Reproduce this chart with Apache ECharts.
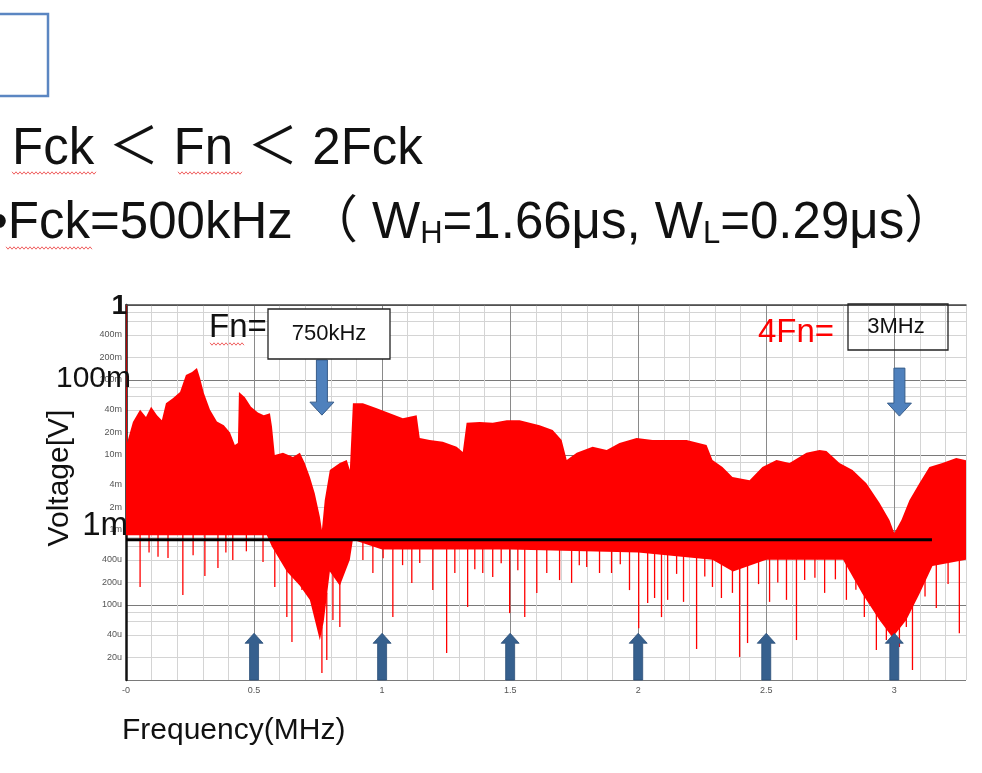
<!DOCTYPE html>
<html>
<head>
<meta charset="utf-8">
<script src="https://cdn.jsdelivr.net/npm/echarts@6/dist/echarts.min.js"></script>
<style>
html, body { margin: 0; padding: 0; background: #fff; }
#main { width: 982px; height: 773px; }
</style>
</head>
<body>
<div id="main"></div>
<script>
// spectrum top edge, [MHz, V]
var upperEnvelope = [
  [0, 1.0], [0.002, 1.0], [0.004, 0.0144], [0.027, 0.0276], [0.055, 0.040], [0.078, 0.032],
  [0.098, 0.044], [0.121, 0.034], [0.140, 0.029], [0.156, 0.049], [0.183, 0.057], [0.211, 0.069],
  [0.234, 0.117], [0.258, 0.128], [0.277, 0.144], [0.289, 0.106], [0.304, 0.067], [0.328, 0.040],
  [0.355, 0.028], [0.382, 0.025], [0.406, 0.020], [0.425, 0.0136], [0.437, 0.0144], [0.441, 0.069],
  [0.464, 0.059], [0.488, 0.044], [0.515, 0.037], [0.538, 0.034], [0.562, 0.036], [0.570, 0.024],
  [0.581, 0.010], [0.613, 0.0107], [0.652, 0.0094], [0.679, 0.0107], [0.698, 0.0078], [0.718, 0.0051],
  [0.737, 0.0031], [0.757, 0.0015], [0.765, 0.0010], [0.776, 0.0025], [0.796, 0.0063], [0.835, 0.0078],
  [0.862, 0.0086], [0.874, 0.0063], [0.886, 0.049], [0.925, 0.049], [0.979, 0.042], [1.030, 0.036],
  [1.081, 0.031], [1.135, 0.034], [1.147, 0.0169], [1.186, 0.0158], [1.237, 0.0150], [1.291, 0.0129],
  [1.315, 0.011], [1.330, 0.027], [1.381, 0.0276], [1.432, 0.027], [1.487, 0.029], [1.537, 0.029],
  [1.576, 0.027], [1.615, 0.025], [1.666, 0.0215], [1.701, 0.0158], [1.721, 0.0086], [1.760, 0.0107],
  [1.822, 0.0129], [1.877, 0.0117], [1.927, 0.0144], [1.994, 0.0169], [2.056, 0.0158], [2.122, 0.0158],
  [2.189, 0.0158], [2.267, 0.0136], [2.290, 0.0086], [2.329, 0.0069], [2.368, 0.0051], [2.435, 0.0046],
  [2.485, 0.0069], [2.540, 0.0086], [2.591, 0.0078], [2.657, 0.0107], [2.708, 0.0117], [2.735, 0.0113],
  [2.786, 0.0078], [2.837, 0.0063], [2.891, 0.0042], [2.942, 0.0023], [2.981, 0.00136], [3.000, 0.00091],
  [3.028, 0.00136], [3.059, 0.0025], [3.098, 0.0042], [3.137, 0.0069], [3.188, 0.0078], [3.242, 0.0091],
  [3.28, 0.0085]
];
// where the solid red stops, [MHz, V]
var lowerEnvelope = [
  [0, 0.00085], [0.55, 0.00085],
  [0.57, 0.0006], [0.628, 0.00028], [0.679, 0.00018], [0.718, 0.000117], [0.757, 0.000034],
  [0.772, 0.00006], [0.796, 0.00028], [0.835, 0.00018], [0.874, 0.0004], [0.886, 0.00074],
  [1.0, 0.00055], [1.5, 0.00055], [2.0, 0.0005], [2.29, 0.0004], [2.37, 0.00028], [2.5, 0.0004],
  [2.80, 0.0004], [2.876, 0.00014], [2.942, 0.000063], [2.993, 0.000037], [3.047, 0.000063],
  [3.098, 0.00014], [3.149, 0.00033], [3.28, 0.0004]
];
// single lines dropping below the bulk, [MHz, V]
var dipSpikes = [
  [0.055, 1.74e-4], [0.090, 5.0e-4], [0.125, 4.4e-4], [0.164, 4.23e-4], [0.222, 1.36e-4],
  [0.262, 4.6e-4], [0.308, 2.44e-4], [0.359, 3.11e-4], [0.390, 5.0e-4], [0.417, 3.98e-4],
  [0.470, 5.2e-4], [0.535, 3.74e-4], [0.581, 1.74e-4], [0.628, 6.9e-5], [0.648, 3.2e-5],
  [0.687, 1.58e-4], [0.730, 1.0e-4], [0.765, 1.24e-5], [0.784, 1.85e-5], [0.808, 6.3e-5],
  [0.835, 5.1e-5], [0.925, 3.98e-4], [0.964, 2.67e-4], [1.004, 4.2e-4], [1.042, 6.9e-5],
  [1.080, 3.4e-4], [1.116, 1.97e-4], [1.147, 3.63e-4], [1.198, 1.58e-4], [1.252, 2.29e-5],
  [1.284, 2.67e-4], [1.334, 9.4e-5], [1.362, 3.0e-4], [1.393, 2.67e-4], [1.432, 2.36e-4],
  [1.465, 3.6e-4], [1.498, 7.8e-5], [1.530, 2.9e-4], [1.557, 6.9e-5], [1.604, 1.45e-4],
  [1.643, 2.67e-4], [1.693, 2.15e-4], [1.740, 1.97e-4], [1.770, 3.4e-4], [1.799, 3.21e-4],
  [1.849, 2.67e-4], [1.896, 2.67e-4], [1.930, 3.5e-4], [1.966, 1.58e-4], [2.002, 4.9e-5],
  [2.037, 1.06e-4], [2.064, 1.24e-4], [2.091, 6.9e-5], [2.115, 1.17e-4], [2.150, 2.6e-4],
  [2.177, 1.10e-4], [2.228, 2.59e-5], [2.260, 2.4e-4], [2.290, 1.74e-4], [2.325, 1.24e-4],
  [2.368, 1.45e-4], [2.396, 2.03e-5], [2.427, 3.11e-5], [2.470, 1.9e-4], [2.513, 1.10e-4],
  [2.545, 2.0e-4], [2.579, 1.17e-4], [2.618, 3.41e-5], [2.650, 2.15e-4], [2.690, 2.3e-4],
  [2.728, 1.45e-4], [2.770, 2.2e-4], [2.813, 1.17e-4], [2.850, 1.6e-4], [2.883, 6.9e-5],
  [2.930, 2.51e-5], [2.969, 3.41e-5], [3.020, 2.75e-5], [3.047, 5.1e-5], [3.071, 1.36e-5],
  [3.120, 1.3e-4], [3.164, 9.1e-5], [3.210, 1.9e-4], [3.254, 4.2e-5]
];
var thresholdLine = [[0, 0.00074], [3.147, 0.00074]];
// [MHz, top V, tip V]
var fnArrows = [[0.765, 0.185, 0.034], [3.02, 0.144, 0.033]];
var fckArrows = [0.5, 1, 1.5, 2, 2.5, 3];
var fckArrowTip = 4.2e-5;
var xLabelValues = [0, 0.5, 1, 1.5, 2, 2.5, 3];
var xLabelTexts = ['-0', '0.5', '1', '1.5', '2', '2.5', '3'];
var yGridVolts = [1e-5, 2e-5, 4e-5, 6e-5, 8e-5, 1e-4, 2e-4, 4e-4, 6e-4, 8e-4, 1e-3, 2e-3, 4e-3, 6e-3, 8e-3,
  1e-2, 2e-2, 4e-2, 6e-2, 8e-2, 0.1, 0.2, 0.4, 0.6, 0.8, 1];
var yLabelVolts = [2e-5, 4e-5, 1e-4, 2e-4, 4e-4, 1e-3, 2e-3, 4e-3, 1e-2, 2e-2, 4e-2, 0.1, 0.2, 0.4];
var yLabelTexts = ['20u', '40u', '100u', '200u', '400u', '1m', '2m', '4m', '10m', '20m', '40m', '100m', '200m', '400m'];

var LATIN = "'Liberation Sans', Arial, 'Noto Sans CJK JP', sans-serif";

function lg(v) { return Math.log10(v); }

function lowerAt(f) {
  for (var i = 1; i < lowerEnvelope.length; i++) {
    var a = lowerEnvelope[i - 1], b = lowerEnvelope[i];
    if (f <= b[0]) {
      var t = (f - a[0]) / (b[0] - a[0]);
      return lg(a[1]) + t * (lg(b[1]) - lg(a[1]));
    }
  }
  return lg(lowerEnvelope[lowerEnvelope.length - 1][1]);
}

function wavy(x0, x1, y) {
  var pts = [];
  for (var x = x0, i = 0; x <= x1; x += 2, i++) pts.push([x, y + (i % 2 ? 1.2 : -1.2)]);
  return { type: 'polyline', shape: { points: pts }, style: { stroke: '#f06060', lineWidth: 1, fill: null }, silent: true };
}

var chart = echarts.init(document.getElementById('main'));

var option = {
  animation: false,
  backgroundColor: '#fff',
  grid: { left: 126, top: 305, width: 840, height: 375 },
  xAxis: {
    type: 'value', min: 0, max: 3.28, interval: 0.1,
    axisLine: { lineStyle: { color: '#444', width: 1.5 } },
    axisTick: { show: false },
    axisLabel: {
      customValues: xLabelValues,
      color: '#555', fontSize: 9, fontFamily: LATIN, margin: 6,
      formatter: function (v) {
        for (var i = 0; i < xLabelValues.length; i++) if (Math.abs(xLabelValues[i] - v) < 1e-6) return xLabelTexts[i];
        return '';
      }
    },
    splitLine: { show: true, lineStyle: { color: ['#8a8a8a', '#d4d4d4', '#d4d4d4', '#d4d4d4', '#d4d4d4'], width: 1 } }
  },
  yAxis: {
    type: 'value', min: -5, max: 0,
    axisLine: { show: true, lineStyle: { color: '#111', width: 2.5 } },
    axisTick: { show: false, customValues: yGridVolts.map(lg) },
    axisLabel: {
      customValues: yLabelVolts.map(lg),
      color: '#555', fontSize: 9, fontFamily: LATIN, margin: 4,
      formatter: function (v) {
        for (var i = 0; i < yLabelVolts.length; i++) if (Math.abs(lg(yLabelVolts[i]) - v) < 1e-6) return yLabelTexts[i];
        return '';
      }
    },
    splitLine: { show: true, lineStyle: { color: ['#7a7a7a', '#d4d4d4', '#d4d4d4', '#d4d4d4', '#d4d4d4'], width: 1 } }
  },
  series: [
    {
      // solid red body of the spectrum
      type: 'custom', silent: true, z: 2,
      data: [[0, 0]],
      renderItem: function (params, api) {
        var pts = [];
        upperEnvelope.forEach(function (p) { pts.push(api.coord([p[0], lg(p[1])])); });
        for (var i = lowerEnvelope.length - 1; i >= 0; i--) {
          pts.push(api.coord([lowerEnvelope[i][0], lg(lowerEnvelope[i][1])]));
        }
        return { type: 'polygon', shape: { points: pts }, style: { fill: '#ff0000' } };
      }
    },
    {
      type: 'custom', silent: true, z: 2,
      data: dipSpikes.map(function (s) { return [s[0], lg(s[1])]; }),
      renderItem: function (params, api) {
        var f = api.value(0);
        var a = api.coord([f, lowerAt(f) + 0.05]);
        var b = api.coord([f, api.value(1)]);
        return { type: 'line', shape: { x1: a[0], y1: a[1], x2: b[0], y2: b[1] }, style: { stroke: '#ff0000', lineWidth: 1.3 } };
      }
    },
    {
      type: 'line', silent: true, z: 5, symbol: 'none',
      data: thresholdLine.map(function (p) { return [p[0], lg(p[1])]; }),
      lineStyle: { color: '#000', width: 3 }
    },
    {
      // Fn markers pointing down
      type: 'custom', silent: true, z: 6,
      data: fnArrows.map(function (a) { return [a[0], lg(a[1]), lg(a[2])]; }),
      encode: { x: 0, y: [1, 2] },
      renderItem: function (params, api) {
        var top = api.coord([api.value(0), api.value(1)]);
        var tip = api.coord([api.value(0), api.value(2)]);
        var x = top[0], w = 5.5, hw = 12, hl = 13;
        return {
          type: 'polygon',
          shape: { points: [[x - w, top[1]], [x + w, top[1]], [x + w, tip[1] - hl], [x + hw, tip[1] - hl], [x, tip[1]], [x - hw, tip[1] - hl], [x - w, tip[1] - hl]] },
          style: { fill: '#4f81bd', stroke: '#385d8a', lineWidth: 1 }
        };
      }
    },
    {
      // Fck harmonics pointing up
      type: 'custom', silent: true, z: 6,
      data: fckArrows.map(function (f) { return [f, -5, lg(fckArrowTip)]; }),
      encode: { x: 0, y: [1, 2] },
      renderItem: function (params, api) {
        var base = api.coord([api.value(0), api.value(1)]);
        var tip = api.coord([api.value(0), api.value(2)]);
        var x = base[0], w = 4.5, hw = 9, hl = 10;
        return {
          type: 'polygon',
          shape: { points: [[x - w, base[1]], [x + w, base[1]], [x + w, tip[1] + hl], [x + hw, tip[1] + hl], [x, tip[1]], [x - hw, tip[1] + hl], [x - w, tip[1] + hl]] },
          style: { fill: '#36608e', stroke: '#2c4f78', lineWidth: 0.8 }
        };
      }
    }
  ],
  graphic: [
    { type: 'rect', shape: { x: -10, y: 14, width: 58, height: 82 }, style: { fill: null, stroke: '#5b86c2', lineWidth: 2.5 } },
    { type: 'text', x: 12, y: 150, style: { text: 'Fck ＜ Fn ＜ 2Fck', fontSize: 51, fontFamily: LATIN, fill: '#111', verticalAlign: 'middle' } },
    wavy(12, 97, 173), wavy(178, 243, 173),
    {
      type: 'text', x: -10, y: 224,
      style: {
        text: '•Fck=500kHz （ W{s|H}=1.66μs, W{s|L}=0.29μs）',
        fontSize: 51, fontFamily: LATIN, fill: '#111', verticalAlign: 'middle',
        rich: { s: { fontSize: 31, fontFamily: LATIN, fill: '#111', verticalAlign: 'bottom' } }
      }
    },
    wavy(6, 92, 248),
    { type: 'text', x: 127, y: 306, z: 10, style: { text: '1', fontSize: 28, fontWeight: 'bold', fontFamily: LATIN, fill: '#111', align: 'right', verticalAlign: 'middle' } },
    { type: 'text', x: 131, y: 379, z: 10, style: { text: '100m', fontSize: 30, fontFamily: LATIN, fill: '#111', align: 'right', verticalAlign: 'middle' } },
    { type: 'text', x: 128, y: 526, z: 10, style: { text: '1m', fontSize: 33, fontFamily: LATIN, fill: '#111', align: 'right', verticalAlign: 'middle' } },
    { type: 'text', x: 60, y: 478, rotation: Math.PI / 2, style: { text: 'Voltage[V]', fontSize: 30, fontFamily: LATIN, fill: '#111', align: 'center', verticalAlign: 'middle' } },
    { type: 'text', x: 122, y: 731, style: { text: 'Frequency(MHz)', fontSize: 30, fontFamily: LATIN, fill: '#111', verticalAlign: 'middle' } },
    { type: 'text', x: 209, y: 328, z: 10, style: { text: 'Fn=', fontSize: 33, fontFamily: LATIN, fill: '#111', verticalAlign: 'middle' } },
    wavy(210, 245, 344),
    { type: 'rect', z: 10, shape: { x: 268, y: 309, width: 122, height: 50 }, style: { fill: '#fff', stroke: '#222', lineWidth: 1.3 } },
    { type: 'text', x: 329, y: 334, z: 11, style: { text: '750kHz', fontSize: 22, fontFamily: LATIN, fill: '#111', align: 'center', verticalAlign: 'middle' } },
    { type: 'text', x: 758, y: 333, z: 10, style: { text: '4Fn=', fontSize: 33, fontFamily: LATIN, fill: '#ff0000', verticalAlign: 'middle' } },
    { type: 'rect', z: 10, shape: { x: 848, y: 304, width: 100, height: 46 }, style: { fill: null, stroke: '#222', lineWidth: 1.3 } },
    { type: 'text', x: 896, y: 327, z: 11, style: { text: '3MHz', fontSize: 22, fontFamily: LATIN, fill: '#111', align: 'center', verticalAlign: 'middle' } }
  ]
};

chart.setOption(option);
</script>
</body>
</html>
